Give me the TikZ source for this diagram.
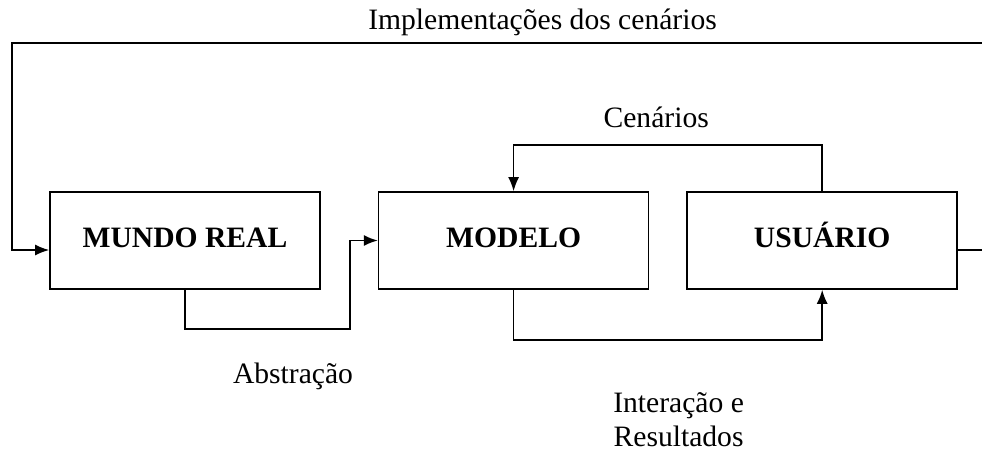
\documentclass[tikz,border=0pt]{standalone}
\usepackage{fontspec}
\setmainfont{Liberation Serif}
\usetikzlibrary{arrows, arrows.meta, positioning}
\tikzstyle{block} = [rectangle, minimum width=135pt, minimum height=48.5pt, text height=10pt, text depth=3pt, text centered, draw=black, line width=0.8pt, font=\fontsize{14.8}{18}\selectfont\bfseries]
\tikzstyle{arrow} = [line width=0.8pt,->,>={Latex[length=7pt, width=5.5pt]}]

\begin{document}
\begin{tikzpicture}[node distance=28.5pt, font=\fontsize{14.8}{18}\selectfont]
    \useasboundingbox (0,0) rectangle (491pt,-228.5pt);
    \clip (0,0) rectangle (491pt,-228.5pt);

    \node (mundoreal) [block] at (92.5pt,-120.25pt) {MUNDO REAL};
    \node (modelo) [block, right=28.5pt of mundoreal] {MODELO};
    \node (usuario) [block, right=18.5pt of modelo] {USUÁRIO};

    \coordinate (topright) at (500pt,-21.5pt);
    \coordinate (topleft) at (6pt,-21.5pt);

    \draw [arrow] ([yshift=-4.75pt]usuario.east) -| (topright) -- node[above, pos=0.463] (implementacoes_text) {Implementações dos cenários} (topleft) |- ([yshift=-4.75pt]mundoreal.west);

    \draw [arrow] (usuario.north) -- ++(0,23pt) coordinate (cenarios_corner) -| (modelo.north);
    \draw [arrow] (mundoreal.south) -- ++(0,-19.5pt) coordinate (abstracao_corner) -| ([xshift=-14pt]modelo.west) -- (modelo.west);
    \draw [arrow] (modelo.south) -- ++(0,-25pt) coordinate (interacao_corner) -| (usuario.south);

    \node(cenarios_text) at ([xshift=-83pt, yshift=14pt]cenarios_corner) {Cenários};
    \node(abstracao_text) at ([xshift=54pt, yshift=-24pt]abstracao_corner) {Abstração};
    \node(interacao_text) [align=center, font=\fontsize{14.8}{17}\selectfont] at ([xshift=82.5pt, yshift=-40pt]interacao_corner) {Interação e\\Resultados};

\end{tikzpicture}
\end{document}
